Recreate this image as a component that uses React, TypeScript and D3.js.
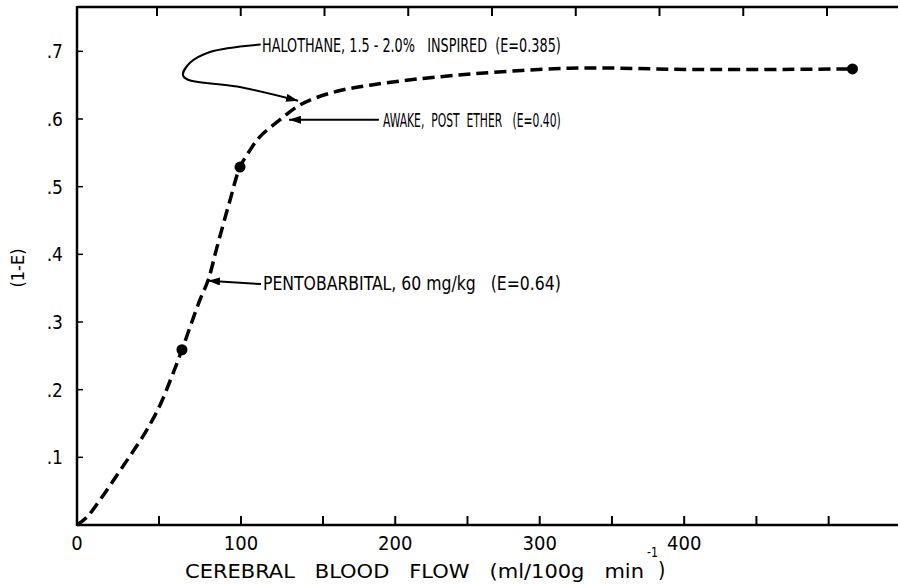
import React from "react";
import * as d3 from "d3";

// ---- data ----
const curveX = [0, 6.1, 14, 23.2, 32.3, 41.5, 50.6, 57.9, 64, 75, 80, 85.4, 93.3, 99.4, 105.5, 111.6, 123.8, 134.1, 142.1, 159.7, 182.5, 228.8, 320, 410, 516.5];
const curveY = [0, 0.0118, 0.037, 0.0695, 0.102, 0.136, 0.177, 0.22, 0.259, 0.333, 0.362, 0.411, 0.48, 0.529, 0.554, 0.574, 0.599, 0.618, 0.628, 0.641, 0.65, 0.662, 0.675, 0.673, 0.674];
const dotX = [64, 99.4, 516.5];
const dotY = [0.259, 0.529, 0.674];

const xTickValues = [50, 100, 150, 200, 250, 300, 350, 400, 450, 500];
const xTickLabels = [
  { v: 0, t: "0" },
  { v: 100, t: "100" },
  { v: 200, t: "200" },
  { v: 300, t: "300" },
  { v: 400, t: "400" },
];
const topTickValues = [50, 100, 150, 200, 250, 300, 350, 400, 450];
const yTickValues = [0.1, 0.2, 0.3, 0.4, 0.5, 0.6, 0.7];
const yTickLabels = [".1", ".2", ".3", ".4", ".5", ".6", ".7"];

const annoTexts = [
  "HALOTHANE, 1.5 - 2.0%   INSPIRED  (E=0.385)",
  "AWAKE,  POST  ETHER   (E=0.40)",
  "PENTOBARBITAL, 60 mg/kg   (E=0.64)",
];
const annoTextX = [112.8, 191.5, 113.4];
const annoTextY = [0.71, 0.599, 0.358];
const annoTextEndX = [314.6, 314.6, 314.6];

const halothaneArrowX = [112, 81.1, 68.9, 64.6, 67.7, 97.6, 134.8];
const halothaneArrowY = [0.71, 0.699, 0.683, 0.665, 0.658, 0.648, 0.627];
const awakeArrowX = [188.7, 129.3];
const awakeArrowY = [0.599, 0.599];
const pentoArrowX = [112.2, 79.9];
const pentoArrowY = [0.356, 0.361];

const xLabelMain = "CEREBRAL   BLOOD   FLOW   (ml/100g   min";
const xLabelSup = "-1";
const xLabelClose = ")";
const yLabel = "(1-E)";

export default function App() {
  const W = 900;
  const H = 585;
  const x = d3.scaleLinear().domain([0, 150, 548]).range([77, 323, 898]);
  const xTop = d3.scaleLinear().domain([0, 50]).range([73.25, 157]);
  const y = d3.scaleLinear().domain([0, 0.767]).range([525, 6]);

  const pts: [number, number][] = curveX.map((v, i) => [v, curveY[i]]);
  const line = d3
    .line<[number, number]>()
    .x((d) => x(d[0]))
    .y((d) => y(d[1]))
    .curve(d3.curveCatmullRom.alpha(0.5));

  const arrowLine = d3
    .line<[number, number]>()
    .x((d) => x(d[0]))
    .y((d) => y(d[1]))
    .curve(d3.curveCatmullRom.alpha(0.5));

  const halo: [number, number][] = halothaneArrowX.map((v, i) => [v, halothaneArrowY[i]]);
  const awake: [number, number][] = awakeArrowX.map((v, i) => [v, awakeArrowY[i]]);
  const pento: [number, number][] = pentoArrowX.map((v, i) => [v, pentoArrowY[i]]);

  const font = "'DejaVu Sans Condensed', 'Liberation Sans Narrow', 'DejaVu Sans', sans-serif";
  const [x0, x1] = [x.range()[0], x.range()[x.range().length - 1]];
  const [yb, yt] = [y.range()[0], y.range()[1]];

  const labelStart = 185;
  const labelEnd = 644;
  const pre = { whiteSpace: "pre" as const };

  return (
    <svg
      width={W}
      height={H}
      style={{ position: "absolute", left: 0, top: 0, background: "#fff" }}
      fontFamily={font}
    >
      <defs>
        <marker
          id="ah"
          viewBox="0 0 12 8"
          refX="12"
          refY="4"
          markerWidth="12"
          markerHeight="8"
          markerUnits="userSpaceOnUse"
          orient="auto"
        >
          <path d="M0,0 L12,4 L0,8 z" fill="#000" />
        </marker>
      </defs>
      <rect x={0} y={0} width={W} height={H} fill="#fff" />

      {/* frame */}
      <line x1={x0} x2={x1} y1={yb} y2={yb} stroke="#000" strokeWidth={2.5} />
      <line x1={x0} x2={x1} y1={yt + 1} y2={yt + 1} stroke="#000" strokeWidth={2.5} />
      <line x1={x0} x2={x0} y1={yt} y2={yb + 1} stroke="#000" strokeWidth={2.5} />

      {/* bottom ticks */}
      {xTickValues.map((v) => (
        <line key={"bt" + v} x1={x(v)} x2={x(v)} y1={yb} y2={yb - 9} stroke="#000" strokeWidth={2} />
      ))}
      {/* top ticks */}
      {topTickValues.map((v) => (
        <line key={"tt" + v} x1={xTop(v)} x2={xTop(v)} y1={yt + 1} y2={yt + 10} stroke="#000" strokeWidth={2} />
      ))}
      {/* left ticks */}
      {yTickValues.map((v) => (
        <line key={"lt" + v} x1={x0} x2={x0 + 6} y1={y(v)} y2={y(v)} stroke="#000" strokeWidth={1.5} />
      ))}

      {/* tick labels */}
      {xTickLabels.map((d) => (
        <text key={"xl" + d.v} x={x(d.v)} y={550} textAnchor="middle" fontSize={20} fill="#000">
          {d.t}
        </text>
      ))}
      {yTickValues.map((v, i) => (
        <text key={"yl" + v} x={63} y={y(v)} dy="0.36em" textAnchor="end" fontSize={19} fill="#000">
          {yTickLabels[i]}
        </text>
      ))}

      {/* axis titles */}
      <text
        x={labelStart}
        y={578}
        fontSize={20}
        textLength={labelEnd - labelStart}
        lengthAdjust="spacingAndGlyphs"
        fill="#000"
        style={pre}
      >
        {xLabelMain}
      </text>
      <text x={labelEnd + 3} y={557} fontSize={14} textLength={11} lengthAdjust="spacingAndGlyphs" fill="#000">
        {xLabelSup}
      </text>
      <text x={labelEnd + 14} y={577} fontSize={21} fill="#000">
        {xLabelClose}
      </text>
      <text
        transform={`translate(24,268) rotate(-90)`}
        textAnchor="middle"
        fontSize={18}
        fill="#000"
        style={pre}
      >
        {yLabel}
      </text>

      {/* curve */}
      <path
        d={line(pts) || ""}
        fill="none"
        stroke="#000"
        strokeWidth={3.5}
        strokeDasharray="12,6"
      />
      {dotX.map((v, i) => (
        <circle key={"d" + i} cx={x(v)} cy={y(dotY[i])} r={5.5} fill="#000" />
      ))}

      {/* annotation arrows */}
      <path d={arrowLine(halo) || ""} fill="none" stroke="#000" strokeWidth={2} markerEnd="url(#ah)" />
      <path d={arrowLine(awake) || ""} fill="none" stroke="#000" strokeWidth={2} markerEnd="url(#ah)" />
      <path d={arrowLine(pento) || ""} fill="none" stroke="#000" strokeWidth={2} markerEnd="url(#ah)" />

      {/* annotation texts */}
      {annoTexts.map((t, i) => (
        <text
          key={"a" + i}
          transform={`translate(${x(annoTextX[i])},${y(annoTextY[i])}) scale(1,1.5)`}
          x={0}
          y={0}
          dy="0.36em"
          fontSize={13}
          textLength={x(annoTextEndX[i]) - x(annoTextX[i])}
          lengthAdjust="spacingAndGlyphs"
          fill="#000"
          style={pre}
        >
          {t}
        </text>
      ))}
    </svg>
  );
}
